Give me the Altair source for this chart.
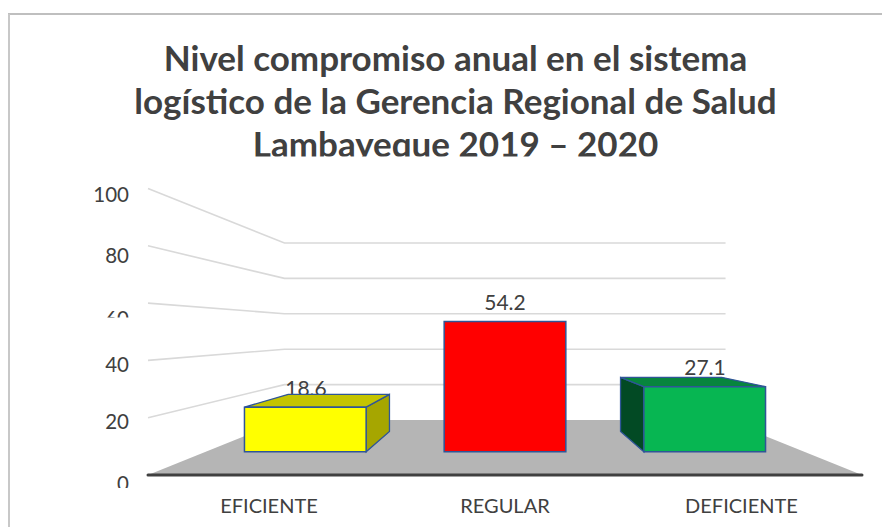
import altair as alt
import pandas as pd

categories = ["EFICIENTE", "REGULAR", "DEFICIENTE"]
values = [18.6, 54.2, 27.1]
front_colors = ["#FFFF00", "#FF0000", "#07B652"]
top_colors = ["#C4C400", "#C00000", "#07853D"]
side_colors = ["#A6A600", "#800000", "#024A24"]
tick_values = [0, 20, 40, 60, 80, 100]
title_lines = ["Nivel compromiso anual en el sistema",
               "logístico de la Gerencia Regional de Salud",
               "Lambayeque 2019 – 2020"]

# ---- layout of the 3-D box (page pixels) ----
X0, X1 = 148, 862
CX = (X0 + X1) / 2
Y0 = 475
DROP = 55
S_FRONT, S_BACK = 2.865, 1.77
T_FRONT, T_REAR = 0.421, 0.79
STEP = (X1 - X0) / len(categories)
BAR_W = 145
TICK_LABEL_Y = [484.5, 423, 365.5, 320, 256.5, 195.5]
CAT_LABEL_X = [269, 505, 741.5]
VALUE_LABEL_X = [306, 505, 705]
VALUE_LABEL_Y = [395.5, 309.5, 374.5]
PAGE_RIGHT, PAGE_BOTTOM = 882, 527


def project(x, v, t):
    s = S_FRONT + (S_BACK - S_FRONT) * t
    return CX + (x - CX) * s / S_FRONT, Y0 - DROP * t - v * s


X_SCALE = alt.Scale(domain=[8, PAGE_RIGHT], nice=False, zero=False)
Y_SCALE = alt.Scale(domain=[PAGE_BOTTOM, 8], nice=False, zero=False)


def X(f):
    return alt.X(f, type="quantitative", scale=X_SCALE, axis=None)


def Y(f):
    return alt.Y(f, type="quantitative", scale=Y_SCALE, axis=None, stack=None)


def df(rows):
    return pd.DataFrame(rows)


# floor
fl, fr = project(X0, 0, 1), project(X1, 0, 1)
floor = alt.Chart(df([
    {"y": fl[1], "a": fl[0], "b": fr[0]},
    {"y": Y0, "a": X0, "b": X1},
])).mark_area(orient="horizontal", color="#B5B5B5").encode(
    y=Y("y"), x=X("a"), x2="b")

# gridlines on side and back wall
grid_rows = []
for v in tick_values[1:]:
    for i, (x, t) in enumerate([(X0, 0), (X0, 1), (X1, 1)]):
        px, py = project(x, v, t)
        grid_rows.append({"v": v, "i": i, "x": px, "y": py})
grid = alt.Chart(df(grid_rows)).mark_line(color="#D9D9D9", strokeWidth=1.6).encode(
    x=X("x"), y=Y("y"), detail="v:N", order="i:Q")

# baseline
base = alt.Chart(df([{"a": X0, "b": X1, "y": Y0}])).mark_rule(
    color="#404040", strokeWidth=3, strokeCap="round").encode(
    x=X("a"), x2="b", y=Y("y"))

# frame
frame_h = alt.Chart(df([{"a": 8, "b": PAGE_RIGHT, "y": 14}])).mark_rule(
    color="#BFBFBF", strokeWidth=2).encode(x=X("a"), x2="b", y=Y("y"))
frame_v = alt.Chart(df([{"x": 9, "a": 14, "b": PAGE_BOTTOM}])).mark_rule(
    color="#C8C8C8", strokeWidth=2).encode(x=X("x"), y=Y("a"), y2="b")

# bars
top_rows, side_rows, front_rows = [], [], []
for i, (cat, val) in enumerate(zip(categories, values)):
    c = X0 + STEP * (i + 0.5)
    left, right = c - BAR_W / 2, c + BAR_W / 2
    fxl, fyt = project(left, val, T_FRONT)
    fxr, fyb = project(right, 0, T_FRONT)
    bxl, byt = project(left, val, T_REAR)
    bxr, byb = project(right, 0, T_REAR)
    front_rows.append({"cat": cat, "a": fxl, "b": fxr, "t": fyt, "u": fyb, "fill": front_colors[i]})
    top_rows += [{"cat": cat, "y": fyt, "a": fxl, "b": fxr, "fill": top_colors[i]},
                 {"cat": cat, "y": byt, "a": bxl, "b": bxr, "fill": top_colors[i]}]
    if c < CX:
        side = [(fxr, fyt, fyb), (bxr, byt, byb)]
    else:
        side = [(fxl, fyt, fyb), (bxl, byt, byb)]
    if c != CX:
        side_rows += [{"cat": cat, "x": s[0], "t": s[1], "u": s[2], "fill": side_colors[i]} for s in side]

EDGE = "#2F5597"
tops = alt.Chart(df(top_rows)).mark_area(
    orient="horizontal", stroke=EDGE, strokeWidth=1.3, opacity=1).encode(
    y=Y("y"), x=X("a"), x2="b", color=alt.Color("fill:N", scale=None), detail="cat:N")
sides = alt.Chart(df(side_rows)).mark_area(
    orient="vertical", stroke=EDGE, strokeWidth=1.3, opacity=1).encode(
    x=X("x"), y=Y("t"), y2="u", color=alt.Color("fill:N", scale=None), detail="cat:N")
fronts = alt.Chart(df(front_rows)).mark_rect(stroke=EDGE, strokeWidth=1.5).encode(
    x=X("a"), x2="b", y=Y("t"), y2="u", color=alt.Color("fill:N", scale=None))

FONT = "Lato"
INK = "#404040"

# text
value_labels = alt.Chart(df([
    {"x": x, "y": y, "t": f"{v:.1f}"}
    for x, y, v in zip(VALUE_LABEL_X, VALUE_LABEL_Y, values)
])).mark_text(font=FONT, fontSize=21, color=INK, align="center", baseline="alphabetic").encode(
    x=X("x"), y=Y("y"), text="t:N")

cat_labels = alt.Chart(df([
    {"x": x, "y": 513, "t": c} for x, c in zip(CAT_LABEL_X, categories)
])).mark_text(font=FONT, fontSize=20, color=INK, align="center", baseline="alphabetic").encode(
    x=X("x"), y=Y("y"), text="t:N")

tick_labels = alt.Chart(df([
    {"x": 129, "y": y, "t": str(v)} for y, v in zip(TICK_LABEL_Y, tick_values)
])).mark_text(font=FONT, fontSize=20.5, color=INK, align="right", baseline="middle").encode(
    x=X("x"), y=Y("y"), text="t:N")

title = alt.Chart(df([
    {"x": 455.5, "y": y, "t": t} for y, t in zip([70.5, 113.5, 157], title_lines)
])).mark_text(font=FONT, fontSize=35, fontWeight="bold", color=INK, align="center",
              baseline="alphabetic").encode(x=X("x"), y=Y("y"), text="t:N")

# white masks: the reference's text is cut off at these edges
masks = alt.Chart(df([
    {"a": 130, "b": 800, "t": 156.5, "u": 180},
    {"a": 85, "b": 135, "t": 317.5, "u": 335},
    {"a": 85, "b": 135, "t": 488, "u": 500},
])).mark_rect(color="white").encode(x=X("a"), x2="b", y=Y("t"), y2="u")

chart = alt.layer(
    frame_h, frame_v, floor, grid, value_labels, sides, tops, fronts, base,
    title, tick_labels, masks, cat_labels,
).properties(
    width=874, height=519, padding=0,
    autosize=alt.AutoSizeParams(type="none"),
).configure_view(stroke=None)

chart.save("out.html", embed_options={"renderer": "svg", "actions": False})
